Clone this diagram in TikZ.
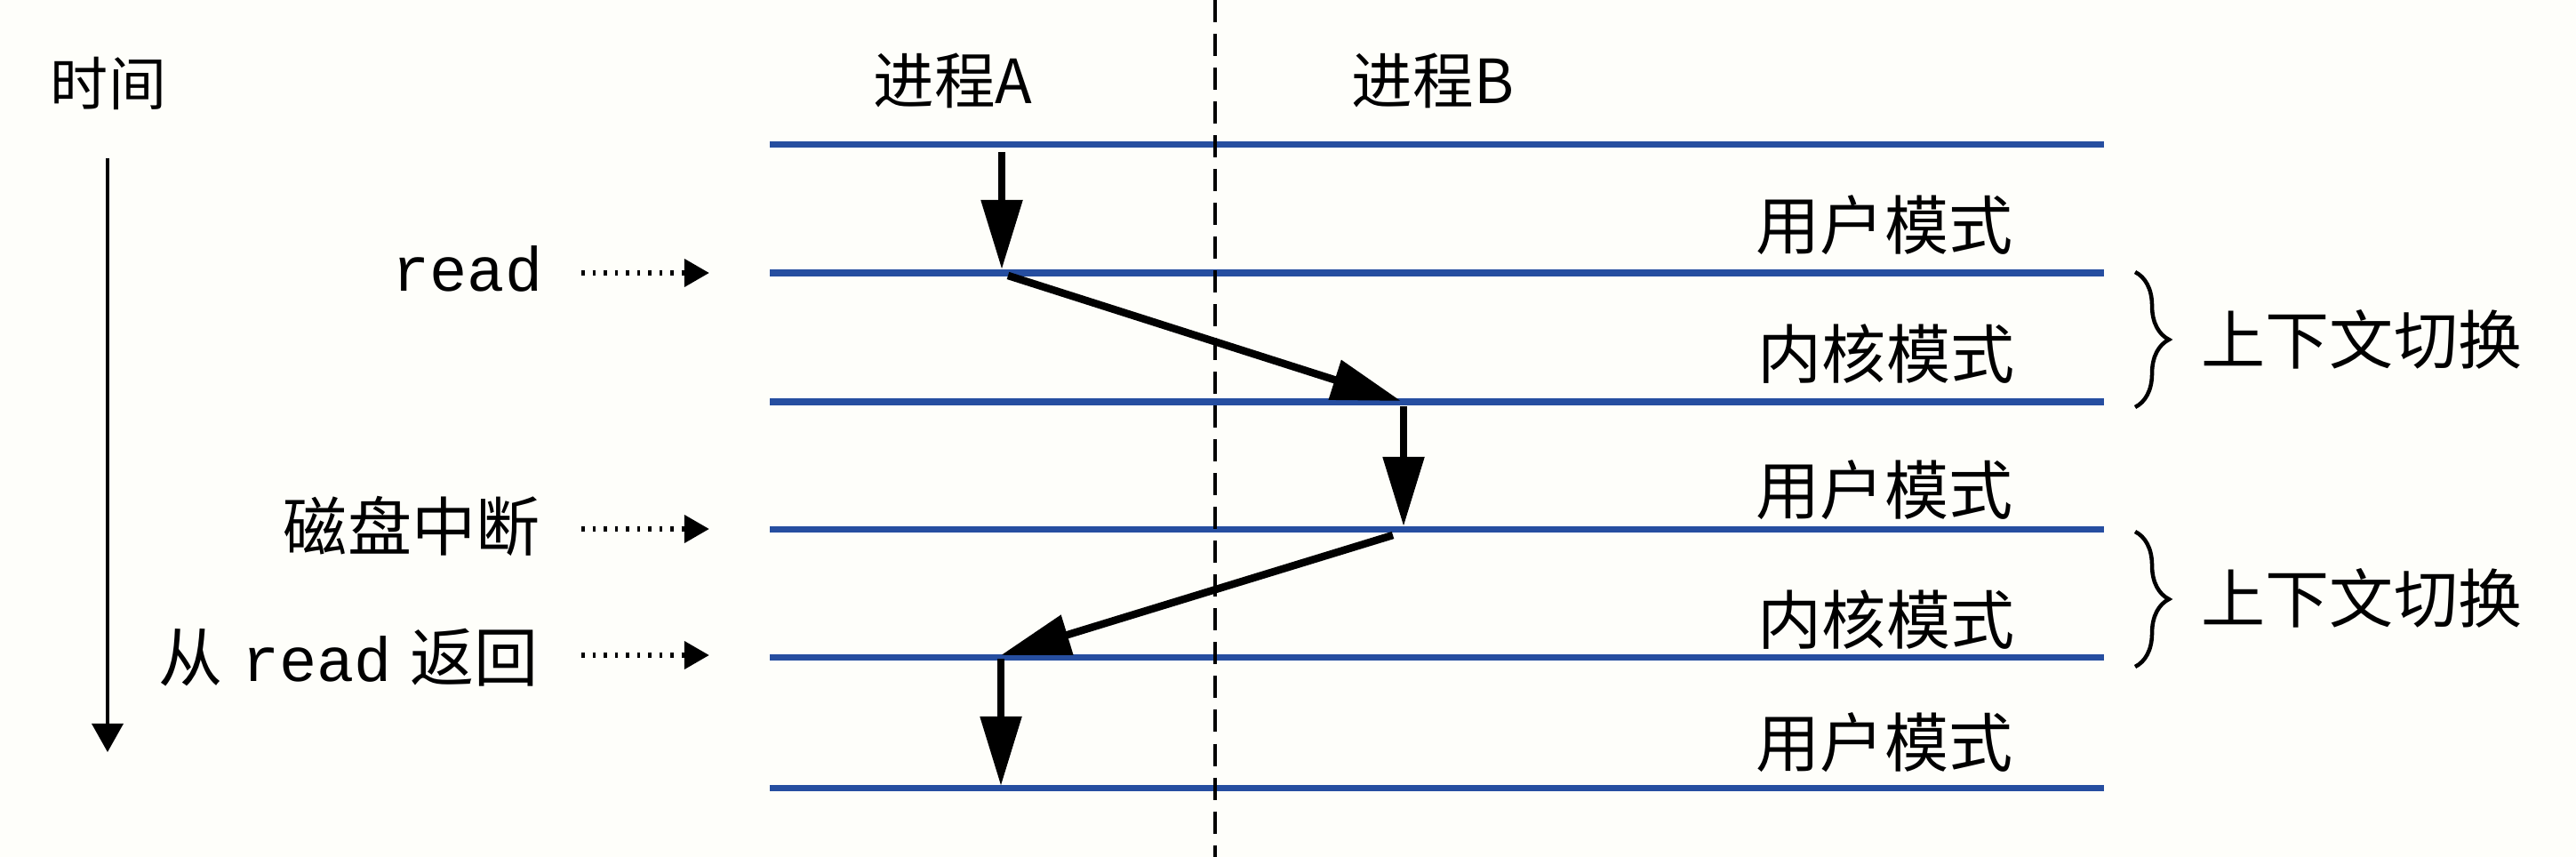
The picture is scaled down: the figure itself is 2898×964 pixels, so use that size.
\documentclass[tikz,border=0pt]{standalone}
\usepackage{fontspec}
\newfontfamily\cjk{Noto Sans CJK SC}
\setmonofont{Liberation Mono}
\usetikzlibrary{arrows.meta,decorations.pathreplacing}
\definecolor{bgcol}{RGB}{254,254,250}
\definecolor{modeline}{RGB}{38,78,160}
\begin{document}
\begin{tikzpicture}[x=0.01cm,y=-0.01cm,
  lbl/.style={font=\cjk\fontsize{20.5}{24}\selectfont, inner sep=0pt},
  modeln/.style={draw=modeline, line width=0.07cm},
  flow/.style={line width=0.085cm, -{Triangle[length=0.78cm,width=0.45cm]}},
  pointer/.style={line width=0.065cm, dash pattern=on 0.035cm off 0.09cm, -{Triangle[length=0.28cm,width=0.30cm]}},
  timeax/.style={line width=0.035cm, -{Triangle[length=0.32cm,width=0.35cm]}},
  sep/.style={line width=0.035cm, dash pattern=on 0.25cm off 0.13cm},
  bracestyle/.style={line width=0.045cm, decorate, decoration={brace, amplitude=0.38cm}}
]
\fill[bgcol] (0,0) rectangle (2898,964);
\useasboundingbox (0,0) rectangle (2898,964);

% mode boundary lines
\foreach \n/\y in {1/163,2/307,3/452,4/595,5/739,6/886}{
  \coordinate (L\n w) at (866,\y);
  \coordinate (L\n e) at (2367,\y);
  \draw[modeln] (L\n w) -- (L\n e);
}

% separator
\coordinate (s0) at (1367,0);
\coordinate (s1) at (1367,964);
\draw[sep] (s0) -- (s1);

% headers
\node[lbl, font=\cjk\fontsize{18.5}{22}\selectfont] (time) at (122,94) {时间};
\node[lbl, font=\cjk\fontsize{19.5}{24}\selectfont] (pA) at (1072,91) {进程A};
\node[lbl, font=\cjk\fontsize{19.5}{24}\selectfont] (pB) at (1612,91) {进程B};

% time axis
\coordinate (t0) at (121,178);
\coordinate (t1) at (121,846);
\draw[timeax] (t0) -- (t1);

% event labels
\node[inner sep=0pt, anchor=base east, font=\ttfamily\fontsize{20}{24}\selectfont] (ev1) at (611,328) {read};
\node[lbl, anchor=east] (ev2) at (608,592) {磁盘中断};
\node[lbl, anchor=east] (ev3) at (606,740) {从\hspace{0.22cm}{\ttfamily\fontsize{20}{24}\selectfont read}\hspace{0.2cm}返回};

\coordinate (p1a) at (654,307); \coordinate (p1b) at (798,307);
\coordinate (p2a) at (654,595); \coordinate (p2b) at (798,595);
\coordinate (p3a) at (654,737); \coordinate (p3b) at (798,737);
\draw[pointer] (p1a) -- (p1b);
\draw[pointer] (p2a) -- (p2b);
\draw[pointer] (p3a) -- (p3b);

% control flow
\coordinate (a1s) at (1127,171); \coordinate (a1e) at (1127,303);
\coordinate (d1s) at (1134,310); \coordinate (d1e) at (1576,451);
\coordinate (b1s) at (1579,457); \coordinate (b1e) at (1579,592);
\coordinate (d2s) at (1567,602); \coordinate (d2e) at (1126,737);
\coordinate (a2s) at (1126,741); \coordinate (a2e) at (1126,884);
\draw[flow] (a1s) -- (a1e);
\draw[flow] (d1s) -- (d1e);
\draw[flow] (b1s) -- (b1e);
\draw[flow] (d2s) -- (d2e);
\draw[flow] (a2s) -- (a2e);

% mode labels
\node[lbl] (m1) at (2120,253) {用户模式};
\node[lbl] (m2) at (2122,398) {内核模式};
\node[lbl] (m3) at (2120,551) {用户模式};
\node[lbl] (m4) at (2122,697) {内核模式};
\node[lbl] (m5) at (2120,835) {用户模式};

% braces
\coordinate (br1t) at (2402,306); \coordinate (br1b) at (2402,458);
\coordinate (br2t) at (2402,598); \coordinate (br2b) at (2402,750);
\draw[bracestyle] (br1t) -- (br1b);
\draw[bracestyle] (br2t) -- (br2b);
\node[lbl, anchor=west] (cs1) at (2476,382) {上下文切换};
\node[lbl, anchor=west] (cs2) at (2476,673) {上下文切换};
\end{tikzpicture}
\end{document}
